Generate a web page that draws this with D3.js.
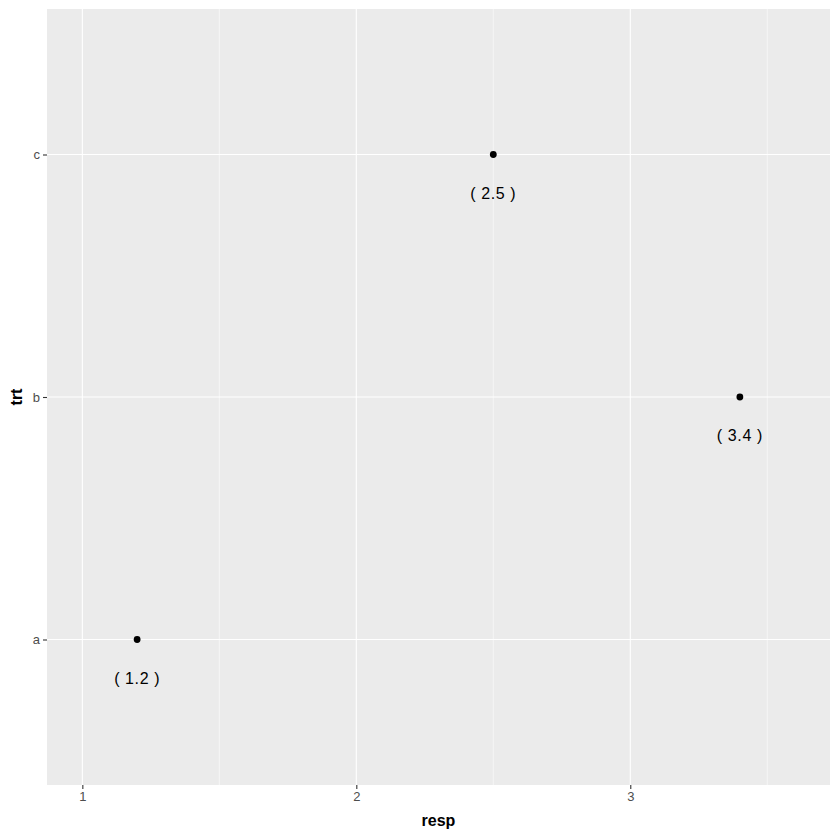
<!DOCTYPE html>
<html>
<head>
<meta charset="utf-8">
<script src="https://cdn.jsdelivr.net/npm/d3@7"></script>
<style>
  body { margin: 0; background: #fff; }
  svg { display: block; font-family: "Liberation Sans", Arial, sans-serif; }
</style>
</head>
<body>
<svg width="840" height="840"></svg>
<script>
// data
var trt = ["a", "b", "c"];
var resp = [1.2, 3.4, 2.5];
var labels = ["( 1.2 )", "( 3.4 )", "( 2.5 )"];
var xTicks = [1, 2, 3];
var xMinor = [1.5, 2.5, 3.5];

var margin = {top: 9, right: 10, bottom: 55, left: 47},
    w = 840 - margin.left - margin.right,
    h = 840 - margin.top - margin.bottom;

var svg = d3.select("svg");
var g = svg.append("g")
    .attr("transform", "translate(" + margin.left + "," + margin.top + ")");

var xScale = d3.scaleLinear()
    .domain([0.871, 3.729])
    .range([0, w]);

// discrete axis, 0.6 units of padding each side
var yScale = d3.scalePoint()
    .domain(trt)
    .range([h, 0])
    .padding(0.6);

// panel
g.append("rect")
    .attr("width", w)
    .attr("height", h)
    .attr("fill", "#ebebeb");

// minor grid
g.selectAll(".minor").data(xMinor).enter().append("line")
    .attr("x1", d => xScale(d)).attr("x2", d => xScale(d))
    .attr("y1", 0).attr("y2", h)
    .attr("stroke", "#fff").attr("stroke-width", 0.55);

// major grid
g.selectAll(".majx").data(xTicks).enter().append("line")
    .attr("x1", d => xScale(d)).attr("x2", d => xScale(d))
    .attr("y1", 0).attr("y2", h)
    .attr("stroke", "#fff").attr("stroke-width", 1.1);

g.selectAll(".majy").data(trt).enter().append("line")
    .attr("y1", d => yScale(d)).attr("y2", d => yScale(d))
    .attr("x1", 0).attr("x2", w)
    .attr("stroke", "#fff").attr("stroke-width", 1.1);

// axes
var xAxis = d3.axisBottom(xScale).tickValues(xTicks).tickSize(4).tickPadding(3).tickFormat(d3.format("d"));
var yAxis = d3.axisLeft(yScale).tickSize(4).tickPadding(3);

var gx = g.append("g").attr("transform", "translate(0," + h + ")").call(xAxis);
var gy = g.append("g").call(yAxis);

[gx, gy].forEach(function(a) {
    a.select(".domain").remove();
    a.selectAll(".tick line").attr("stroke", "#333").attr("stroke-width", 1.1);
    a.selectAll(".tick text")
        .attr("fill", "#4d4d4d")
        .style("font-size", "13px")
        .style("font-family", "'Liberation Sans', Arial, sans-serif");
});

// axis titles
svg.append("text")
    .attr("x", margin.left + w / 2)
    .attr("y", 826)
    .attr("text-anchor", "middle")
    .style("font-size", "16px")
    .style("font-weight", "bold")
    .attr("fill", "#000")
    .text("resp");

svg.append("text")
    .attr("transform", "translate(22," + (margin.top + h / 2) + ") rotate(-90)")
    .attr("text-anchor", "middle")
    .style("font-size", "16px")
    .style("font-weight", "bold")
    .attr("fill", "#000")
    .text("trt");

// points
g.selectAll(".dot").data(trt).enter().append("circle")
    .attr("cx", (d, i) => xScale(resp[i]))
    .attr("cy", d => yScale(d))
    .attr("r", 3.4)
    .attr("fill", "#000");

// labels
g.selectAll(".lab").data(trt).enter().append("text")
    .attr("x", (d, i) => xScale(resp[i]))
    .attr("y", d => yScale(d) + 38.5)
    .attr("dy", "0.35em")
    .attr("text-anchor", "middle")
    .style("font-size", "16px")
    .style("letter-spacing", "0.6px")
    .attr("fill", "#000")
    .text((d, i) => labels[i]);
</script>
</body>
</html>
